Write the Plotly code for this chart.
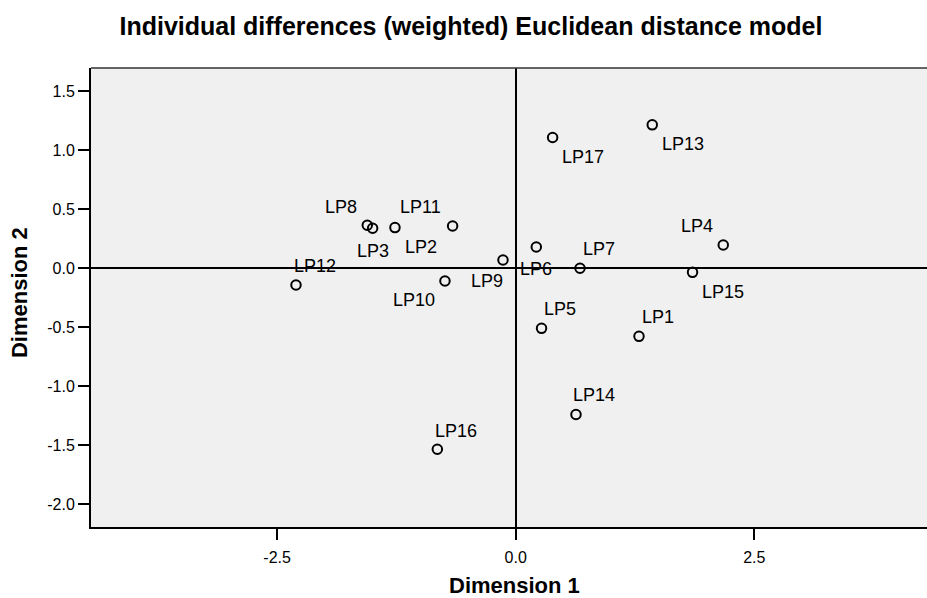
import plotly.graph_objects as go

# ---- data ----
points = ["LP1", "LP2", "LP3", "LP4", "LP5", "LP6", "LP7", "LP8", "LP9",
          "LP10", "LP11", "LP12", "LP13", "LP14", "LP15", "LP16", "LP17"]
dim1 = [1.292, -1.265, -1.499, 2.175, 0.271, 0.216, 0.674, -1.555, -0.133,
        -0.741, -0.661, -2.302, 1.431, 0.632, 1.853, -0.821, 0.387]
dim2 = [-0.577, 0.345, 0.340, 0.198, -0.509, 0.181, 0.000, 0.365, 0.070,
        -0.108, 0.359, -0.142, 1.216, -1.239, -0.034, -1.534, 1.109]
x_ticks = [-2.5, 0.0, 2.5]
y_ticks = [-2.0, -1.5, -1.0, -0.5, 0.0, 0.5, 1.0, 1.5]

title_text = "Individual differences (weighted) Euclidean distance model"
x_title = "Dimension 1"
y_title = "Dimension 2"

# ---- label placement (pixel offsets: right, down) ----
label_offset_px = {
    "LP1": (18.6, -19), "LP2": (25.6, 19.6), "LP3": (0, 22.7), "LP4": (-26.3, -19),
    "LP5": (18.4, -19), "LP6": (0, 22.3), "LP7": (18.6, -19.3), "LP8": (-26, -18.6),
    "LP9": (-16, 21), "LP10": (-31.4, 19.3), "LP11": (-32, -18.7), "LP12": (18.6, -19.3),
    "LP13": (30.7, 19.3), "LP14": (18.3, -19), "LP15": (30.4, 20), "LP16": (18.7, -18.7),
    "LP17": (30.4, 19.6),
}

FONT = "Arial, 'Liberation Sans', sans-serif"

fig = go.Figure()
fig.add_trace(go.Scatter(
    x=dim1, y=dim2, mode="markers", text=points, hoverinfo="text",
    marker=dict(symbol="circle-open", size=9.5, color="black",
                line=dict(width=2, color="black")),
    showlegend=False,
))

annotations = []
for name, xv, yv in zip(points, dim1, dim2):
    dx, dy = label_offset_px[name]
    annotations.append(dict(
        x=xv, y=yv, xref="x", yref="y", text=name, showarrow=False,
        xanchor="center", yanchor="middle", xshift=dx, yshift=-dy,
        font=dict(family=FONT, size=18, color="black"),
    ))

annotations.append(dict(
    x=0.5062, y=-0.1272, xref="paper", yref="paper", text=x_title, showarrow=False,
    xanchor="center", yanchor="middle",
    font=dict(family=FONT, size=22, color="black", weight="bold"),
))
annotations.append(dict(
    x=-0.0861, y=0.5098, xref="paper", yref="paper", text=y_title, showarrow=False,
    xanchor="center", yanchor="middle", textangle=-90,
    font=dict(family=FONT, size=22, color="black", weight="bold"),
))

fig.update_layout(
    width=927, height=598, autosize=False,
    margin=dict(l=91, r=0, t=68, b=71),
    paper_bgcolor="white", plot_bgcolor="#f0f0f0",
    font=dict(family=FONT, color="black"),
    title=dict(text=title_text, x=0.508, xanchor="center", xref="container",
               y=0.9553, yanchor="middle", yref="container",
               font=dict(family=FONT, size=25, color="black", weight="bold")),
    annotations=annotations,
    shapes=[dict(type="line", xref="paper", yref="paper", x0=0, x1=1, y0=1, y1=1,
                 line=dict(color="#333333", width=1.5))],
)

fig.update_xaxes(
    range=[-4.45, 4.31], tickvals=x_ticks, ticktext=[f"{v:.1f}" for v in x_ticks],
    showgrid=False, zeroline=True, zerolinecolor="black", zerolinewidth=2,
    showline=True, linecolor="black", linewidth=2,
    ticks="outside", ticklen=11, tickwidth=2, tickcolor="black",
    ticklabelstandoff=4,
    tickfont=dict(family=FONT, size=16, color="black"),
)
fig.update_yaxes(
    range=[-2.193, 1.698], tickvals=y_ticks, ticktext=[f"{v:.1f}" for v in y_ticks],
    showgrid=False, zeroline=True, zerolinecolor="black", zerolinewidth=2,
    showline=True, linecolor="black", linewidth=2,
    ticks="outside", ticklen=11, tickwidth=2, tickcolor="black",
    tickfont=dict(family=FONT, size=16, color="black"),
)

fig.write_html("out.html")
